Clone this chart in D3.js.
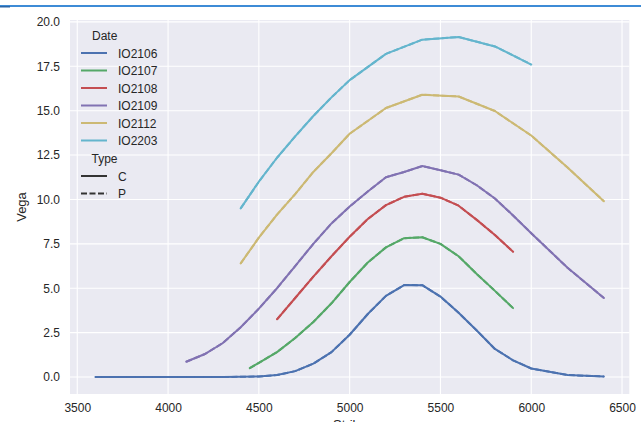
<!DOCTYPE html>
<html><head><meta charset="utf-8">
<script src="https://cdn.jsdelivr.net/npm/d3@7"></script>
<style>html,body{margin:0;padding:0;background:#fff;}svg{display:block;}</style>
</head><body>
<svg id="chart" width="641" height="422"></svg>
<script>
// ---- data ----
const dates = ["IO2106", "IO2107", "IO2108", "IO2109", "IO2112", "IO2203"];
const types = ["C", "P"];
const xTicks = [3500, 4000, 4500, 5000, 5500, 6000, 6500];
const yTicks = [0, 2.5, 5, 7.5, 10, 12.5, 15, 17.5, 20];

const strikes2106 = [3600,3700,3800,3900,4000,4100,4200,4300,4400,4500,4600,4700,4800,4900,5000,5100,5200,5300,5400,5500,5600,5700,5800,5900,6000,6200,6400];
const vega2106    = [0,0,0,0,0,0,0,0,0.01,0.03,0.11,0.33,0.75,1.4,2.38,3.55,4.57,5.18,5.17,4.53,3.62,2.62,1.58,0.94,0.48,0.11,0.03];

const strikes2107 = [4450,4500,4600,4700,4800,4900,5000,5100,5200,5300,5400,5500,5600,5700,5800,5900];
const vega2107    = [0.5,0.8,1.4,2.2,3.1,4.15,5.35,6.45,7.3,7.82,7.87,7.5,6.8,5.8,4.85,3.88];

const strikes2108 = [4600,4700,4800,4900,5000,5100,5200,5300,5400,5500,5600,5700,5800,5900];
const vega2108    = [3.25,4.45,5.65,6.8,7.9,8.9,9.68,10.15,10.32,10.1,9.65,8.85,8.0,7.05];

const strikes2109 = [4100,4200,4300,4400,4500,4600,4700,4800,4900,5000,5100,5200,5300,5400,5500,5600,5700,5800,5900,6000,6200,6400];
const vega2109    = [0.86,1.28,1.9,2.8,3.85,5.0,6.25,7.5,8.65,9.6,10.45,11.25,11.55,11.88,11.65,11.4,10.8,10.05,9.1,8.1,6.15,4.45];

const strikes2112 = [4400,4500,4600,4700,4800,4900,5000,5200,5400,5600,5800,6000,6200,6400];
const vega2112    = [6.4,7.85,9.15,10.3,11.55,12.6,13.7,15.15,15.9,15.8,14.98,13.6,11.8,9.9];

const strikes2203 = [4400,4500,4600,4700,4800,4900,5000,5200,5400,5600,5800,6000];
const vega2203    = [9.5,11.0,12.35,13.55,14.7,15.75,16.72,18.2,19.0,19.15,18.62,17.6];

const strikeLists = [strikes2106, strikes2107, strikes2108, strikes2109, strikes2112, strikes2203];
const vegaLists   = [vega2106, vega2107, vega2108, vega2109, vega2112, vega2203];
const colors = ["#4C72B0", "#55A868", "#C44E52", "#8172B2", "#CCB974", "#64B5CD"];

// ---- layout ----
const svg = d3.select("#chart");
const L = 70, R = 629.3, T = 20, B = 394;

const allX = strikeLists.flat(), allY = vegaLists.flat();
const xMin = d3.min(allX), xMax = d3.max(allX), yMin = d3.min(allY), yMax = d3.max(allY);
const xPad = (xMax - xMin) * 0.05, yPad = (yMax - yMin) * 0.05;
const x = d3.scaleLinear().domain([xMin - xPad, xMax + xPad]).range([L, R]);
const y = d3.scaleLinear().domain([yMin - yPad, yMax + yPad]).range([B, T]);

// top page strip
svg.append("rect").attr("x", 0).attr("y", 5).attr("width", 641).attr("height", 2).attr("fill", "#3d8bd6");
svg.append("rect").attr("x", 0).attr("y", 6).attr("width", 10).attr("height", 1.5).attr("fill", "#2a66a8");

// background
svg.append("rect").attr("x", L).attr("y", T).attr("width", R - L).attr("height", B - T).attr("fill", "#EAEAF2");

// grid
const g = svg.append("g");
g.selectAll(".gx").data(xTicks).join("line")
  .attr("x1", d => x(d)).attr("x2", d => x(d)).attr("y1", T).attr("y2", B)
  .attr("stroke", "#fff").attr("stroke-width", 1.1);
g.selectAll(".gy").data(yTicks).join("line")
  .attr("x1", L).attr("x2", R).attr("y1", d => y(d)).attr("y2", d => y(d))
  .attr("stroke", "#fff").attr("stroke-width", 1.1);

// axes
const font = "'Liberation Sans', Arial, sans-serif";
const xAxis = svg.append("g").attr("transform", `translate(0,${B})`)
  .call(d3.axisBottom(x).tickValues(xTicks).tickSize(0).tickPadding(9).tickFormat(d3.format("d")));
const yAxis = svg.append("g").attr("transform", `translate(${L},0)`)
  .call(d3.axisLeft(y).tickValues(yTicks).tickSize(0).tickPadding(10).tickFormat(d3.format(".1f")));
[xAxis, yAxis].forEach(a => {
  a.select(".domain").remove();
  a.selectAll("text").attr("fill", "#262626").style("font-family", font).style("font-size", "12px");
});

svg.append("text").attr("x", (L + R) / 2).attr("y", 428.5).attr("text-anchor", "middle")
  .attr("fill", "#262626").style("font-family", font).style("font-size", "13px").text("Strike");
svg.append("text").attr("transform", `translate(26,${(T + B) / 2}) rotate(-90)`).attr("text-anchor", "middle")
  .attr("fill", "#262626").style("font-family", font).style("font-size", "13px").text("Vega");

// lines
const line = d3.line().x(d => x(d[0])).y(d => y(d[1]));
const plot = svg.append("g");
types.forEach(t => {
  dates.forEach((dt, i) => {
    const pts = strikeLists[i].map((s, k) => [s, vegaLists[i][k]]);
    plot.append("path").datum(pts).attr("d", line)
      .attr("fill", "none").attr("stroke", colors[i]).attr("stroke-width", 2)
      .attr("stroke-linejoin", "round").attr("stroke-linecap", t === "C" ? "round" : "butt")
      .attr("stroke-dasharray", t === "P" ? "6,2.5" : null);
  });
});

// legend
const lg = svg.append("g").style("font-family", font).style("font-size", "12px");
const rowH = 17.5;
lg.append("text").attr("x", 92).attr("y", 36 + 4).attr("fill", "#262626").text("Date");
dates.forEach((dt, i) => {
  const yy = 53 + i * rowH;
  lg.append("line").attr("x1", 81).attr("x2", 107).attr("y1", yy).attr("y2", yy)
    .attr("stroke", colors[i]).attr("stroke-width", 2);
  lg.append("text").attr("x", 118).attr("y", yy + 4.5).attr("fill", "#262626").text(dt);
});
lg.append("text").attr("x", 91.5).attr("y", 159 + 4).attr("fill", "#262626").text("Type");
types.forEach((t, i) => {
  const yy = 176 + i * rowH;
  lg.append("line").attr("x1", 81).attr("x2", 107).attr("y1", yy).attr("y2", yy)
    .attr("stroke", "#333").attr("stroke-width", 2)
    .attr("stroke-dasharray", t === "P" ? "6,2.5" : null);
  lg.append("text").attr("x", 118).attr("y", yy + 4.5).attr("fill", "#262626").text(t);
});
</script>
</body></html>
